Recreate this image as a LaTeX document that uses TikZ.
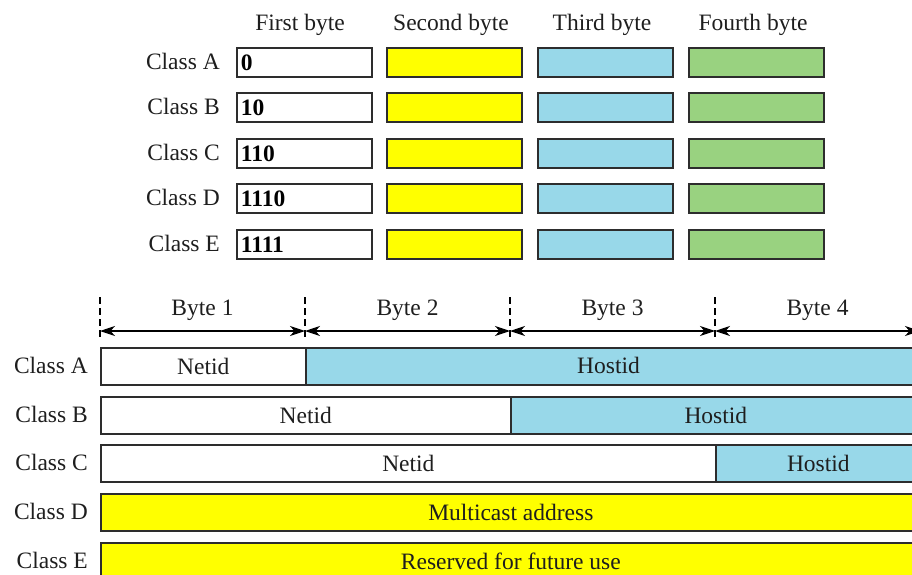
\documentclass[tikz,border=0pt]{standalone}
\usepackage{fontspec}
\setmainfont{Liberation Serif}
\usetikzlibrary{arrows.meta}
\definecolor{fillyellow}{RGB}{255,255,0}
\definecolor{fillblue}{RGB}{152,216,233}
\definecolor{fillgreen}{RGB}{153,210,128}
\definecolor{edgegray}{RGB}{45,45,45}
\definecolor{inkgray}{RGB}{30,30,30}
\begin{document}
\begin{tikzpicture}[x=1pt,y=-1pt,
  txt/.style={font=\fontsize{23.5}{27}\selectfont, text=inkgray, inner sep=0pt},
  lbl/.style={txt, anchor=east},
  bytebox/.style={draw=edgegray, line width=1.7pt, minimum width=135pt, minimum height=29pt, anchor=north west, inner sep=0pt},
  bitbox/.style={bytebox, fill=white, font=\fontsize{23.5}{27}\selectfont\bfseries, text=black, align=left, text width=127pt},
  bar/.style={draw=edgegray, line width=1.7pt, minimum height=37pt, anchor=north west, inner sep=0pt, font=\fontsize{23.5}{27}\selectfont, text=inkgray},
  dimline/.style={line width=1.1pt, {Stealth[length=15pt,width=10pt,inset=4.5pt]}-{Stealth[length=15pt,width=10pt,inset=4.5pt]}},
  guide/.style={line width=1.1pt, dash pattern=on 7pt off 4pt}
]
\useasboundingbox (0,0) rectangle (912,575);
\clip (0,0) rectangle (912,575);

% ---- upper part: leading bits of each class ----
\node[txt] (h1) at (300,25) {First byte};
\node[txt] (h2) at (451,25) {Second byte};
\node[txt] (h3) at (602,25) {Third byte};
\node[txt] (h4) at (753,25) {Fourth byte};

\foreach \cls/\bits/\yy in {A/0/47, B/10/92, C/110/138, D/1110/183, E/1111/229}{
  \node[lbl] (cl\cls) at (220,\yy+14.5) {Class \cls};
  \node[bitbox] (b1\cls) at (236,\yy) {\bits};
  \node[bytebox, fill=fillyellow] (b2\cls) at (386,\yy) {};
  \node[bytebox, fill=fillblue] (b3\cls) at (537,\yy) {};
  \node[bytebox, fill=fillgreen] (b4\cls) at (688,\yy) {};
}

% ---- lower part: byte boundaries ----
\foreach \i/\xx in {0/100, 1/305, 2/510, 3/715, 4/920}{
  \coordinate (t\i) at (\xx,297);
  \coordinate (m\i) at (\xx,331);
  \coordinate (u\i) at (\xx,338);
  \draw[guide] (t\i) -- (u\i);
}
\draw[dimline] (m0) -- (m1);
\draw[dimline] (m1) -- (m2);
\draw[dimline] (m2) -- (m3);
\draw[dimline] (m3) -- (m4);
\node[txt] (y1) at (202.5,310) {Byte 1};
\node[txt] (y2) at (407.5,310) {Byte 2};
\node[txt] (y3) at (612.5,310) {Byte 3};
\node[txt] (y4) at (817.5,310) {Byte 4};

% ---- lower part: netid / hostid split per class ----
\node[lbl] (LA) at (88,365.5) {Class A};
\node[bar, fill=white, minimum width=205pt] (nA) at (100,347) {Netid};
\node[bar, fill=fillblue, minimum width=615pt] (hA) at (305,347) {};
\node[txt] (hAt) at (608.5,365.5) {Hostid};

\node[lbl] (LB) at (88,414) {Class B};
\node[bar, fill=white, minimum width=410pt] (nB) at (100,396) {Netid};
\node[bar, fill=fillblue, minimum width=410pt] (hB) at (510,396) {Hostid};

\node[lbl] (LC) at (88,462.5) {Class C};
\node[bar, fill=white, minimum width=615pt] (nC) at (100,444) {Netid};
\node[bar, fill=fillblue, minimum width=205pt] (hC) at (715,444) {Hostid};

\node[lbl] (LD) at (88,511.5) {Class D};
\node[bar, fill=fillyellow, minimum width=820pt] (mD) at (100,493) {Multicast address};

\node[lbl] (LE) at (88,560.5) {Class E};
\node[bar, fill=fillyellow, minimum width=820pt] (rE) at (100,542) {Reserved for future use};
\end{tikzpicture}
\end{document}
